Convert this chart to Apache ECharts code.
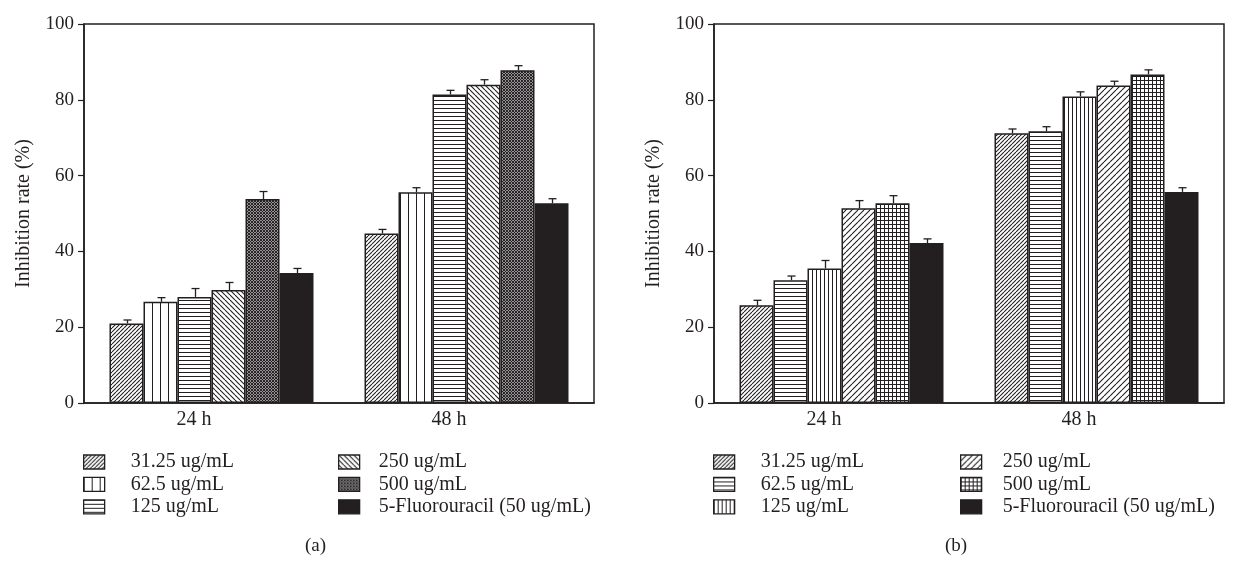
<!DOCTYPE html>
<html>
<head>
<meta charset="utf-8">
<script src="https://cdn.jsdelivr.net/npm/echarts@6/dist/echarts.min.js"></script>
<style>
html,body{margin:0;padding:0;background:#fff;}
#c{width:1246px;height:562px;}
</style>
</head>
<body>
<div id="c"></div>
<script>
// ---------- DATA ----------
const categories = ['24 h', '48 h'];
const concentrationsA = ['31.25 ug/mL', '62.5 ug/mL', '125 ug/mL', '250 ug/mL', '500 ug/mL', '5-Fluorouracil (50 ug/mL)'];
const concentrationsB = ['31.25 ug/mL', '62.5 ug/mL', '125 ug/mL', '250 ug/mL', '500 ug/mL', '5-Fluorouracil (50 ug/mL)'];
// values per series: [24 h, 48 h]
const panelAValues = [
  [21.0, 44.7],
  [26.7, 55.6],
  [28.0, 81.4],
  [29.8, 84.0],
  [53.8, 87.8],
  [34.3, 52.7]
];
const panelAErrors = [
  [0.9, 1.1],
  [1.1, 1.2],
  [2.2, 1.1],
  [2.0, 1.3],
  [2.0, 1.2],
  [1.2, 1.2]
];
const panelBValues = [
  [25.8, 71.2],
  [32.4, 71.7],
  [35.5, 80.9],
  [51.4, 83.8],
  [52.7, 86.7],
  [42.2, 55.7]
];
const panelBErrors = [
  [1.3, 1.1],
  [1.1, 1.2],
  [2.1, 1.2],
  [2.0, 1.1],
  [2.0, 1.2],
  [1.1, 1.1]
];
const yMin = 0, yMax = 100, yInterval = 20;
const panelLabels = ['(a)', '(b)'];
const yAxisTitle = 'Inhibition rate (%)';

// ---------- STYLE ----------
const INK = '#231f20';
const FONT = 'Liberation Serif';

function tile(w, h, draw) {
  const c = document.createElement('canvas');
  c.width = w; c.height = h;
  const ctx = c.getContext('2d');
  ctx.fillStyle = '#fff';
  ctx.fillRect(0, 0, w, h);
  ctx.strokeStyle = INK;
  ctx.fillStyle = INK;
  draw(ctx, w, h);
  return { image: c, repeat: 'repeat' };
}
function diagFwd(s, lw) { // "/"
  return tile(s, s, (ctx) => {
    ctx.lineWidth = lw;
    for (let k = -1; k <= 1; k++) {
      ctx.beginPath(); ctx.moveTo(k * s, s); ctx.lineTo(k * s + s, 0); ctx.stroke();
    }
  });
}
function diagBack(s, lw) { // "\"
  return tile(s, s, (ctx) => {
    ctx.lineWidth = lw;
    for (let k = -1; k <= 1; k++) {
      ctx.beginPath(); ctx.moveTo(k * s, 0); ctx.lineTo(k * s + s, s); ctx.stroke();
    }
  });
}
function cross(s, lw) {
  return tile(s, s, (ctx) => {
    ctx.lineWidth = lw;
    for (let k = -1; k <= 1; k++) {
      ctx.beginPath(); ctx.moveTo(k * s, s); ctx.lineTo(k * s + s, 0); ctx.stroke();
      ctx.beginPath(); ctx.moveTo(k * s, 0); ctx.lineTo(k * s + s, s); ctx.stroke();
    }
  });
}
function horiz(s, lw) {
  return tile(s, s, (ctx) => { ctx.fillRect(0, 0, s, lw); });
}
function vert(s, lw) {
  return tile(s, s, (ctx) => { ctx.fillRect(0, 0, lw, s); });
}
function grid(s, lw) {
  return tile(s, s, (ctx) => { ctx.fillRect(0, 0, s, lw); ctx.fillRect(0, 0, lw, s); });
}

const patternsA = [diagFwd(4, 1.1), vert(8, 1), horiz(4, 1), diagBack(5, 1.1), cross(3, 1.1), INK];
const patternsB = [diagFwd(4, 1.1), horiz(4, 1), vert(4, 1), diagFwd(6, 1.1), grid(4, 1), INK];

const grids = [
  { left: 84, top: 24, width: 510, height: 379 },
  { left: 714, top: 24, width: 510, height: 379 }
];

const chart = echarts.init(document.getElementById('c'), null, { renderer: 'canvas' });

function errRender(barIdx, nBars) {
  return function (params, api) {
    const cat = api.value(0), v = api.value(1), e = api.value(2);
    const base = api.coord([cat, v]);
    const top = api.coord([cat, v + e]);
    const band = api.size([1, 0])[0];
    const groupW = band * 0.8;
    const bw = groupW / nBars;
    const x = Math.round(base[0] - groupW / 2 + (barIdx + 0.5) * bw) + 0.5;
    const st = { stroke: INK, lineWidth: 1.3 };
    return {
      type: 'group',
      children: [
        { type: 'line', shape: { x1: x, y1: base[1], x2: x, y2: top[1] }, style: st },
        { type: 'line', shape: { x1: x - 4, y1: top[1], x2: x + 4, y2: top[1] }, style: st }
      ]
    };
  };
}

const series = [];
function addPanel(p, names, values, errors, patterns) {
  names.forEach((nm, i) => {
    series.push({
      type: 'bar',
      name: p + '|' + nm,
      xAxisIndex: p, yAxisIndex: p,
      data: values[i],
      barGap: '0%',
      barCategoryGap: '20%',
      itemStyle: { color: patterns[i], borderColor: INK, borderWidth: 1.5 },
      emphasis: { disabled: true },
      animation: false
    });
  });
  names.forEach((nm, i) => {
    series.push({
      type: 'custom',
      xAxisIndex: p, yAxisIndex: p,
      renderItem: errRender(i, names.length),
      data: values[i].map((v, c) => [c, v, errors[i][c]]),
      encode: { x: 0, y: 1 },
      z: 5,
      animation: false,
      silent: true
    });
  });
}
addPanel(0, concentrationsA, panelAValues, panelAErrors, patternsA);
addPanel(1, concentrationsB, panelBValues, panelBErrors, patternsB);

function xAxis(p) {
  return {
    type: 'category', gridIndex: p, data: categories,
    axisLine: { lineStyle: { color: INK, width: 1.5 } },
    axisTick: { show: false },
    axisLabel: { color: INK, fontFamily: FONT, fontSize: 20, margin: 7, padding: [0, 35, 0, 0] }
  };
}
function yAxis(p) {
  return {
    type: 'value', gridIndex: p, min: yMin, max: yMax, interval: yInterval,
    name: yAxisTitle, nameLocation: 'middle', nameGap: 50, nameRotate: 90,
    nameTextStyle: { color: INK, fontFamily: FONT, fontSize: 20 },
    axisLine: { show: true, lineStyle: { color: INK, width: 1.5 } },
    axisTick: { show: true, inside: false, length: 6, lineStyle: { color: INK, width: 1.2 } },
    axisLabel: { color: INK, fontFamily: FONT, fontSize: 19, margin: 10 },
    splitLine: { show: false }
  };
}

function legend(p, names, idxs, left, pad) {
  return {
    orient: 'vertical', left: left, top: 452, padding: 0,
    itemWidth: 21, itemHeight: 14, itemGap: 2.4, icon: 'rect',
    selectedMode: false,
    data: idxs.map(i => p + '|' + names[i]),
    formatter: (n) => n.replace(/^\d\|/, ''),
    itemStyle: { borderColor: INK, borderWidth: 1.3 },
    textStyle: { color: INK, fontFamily: FONT, fontSize: 20, lineHeight: 14, padding: [0, 0, 0, pad] }
  };
}

const option = {
  backgroundColor: '#fff',
  animation: false,
  grid: grids.map(g => Object.assign({ show: true, borderColor: INK, borderWidth: 1.5, backgroundColor: 'transparent' }, g)),
  xAxis: [xAxis(0), xAxis(1)],
  yAxis: [yAxis(0), yAxis(1)],
  legend: [
    legend(0, concentrationsA, [0, 1, 2], 83, 21),
    legend(0, concentrationsA, [3, 4, 5], 338, 14),
    legend(1, concentrationsB, [0, 1, 2], 713, 21),
    legend(1, concentrationsB, [3, 4, 5], 960, 16)
  ],
  graphic: [
    { type: 'text', left: 305, top: 537, style: { text: panelLabels[0], fill: INK, font: '19px "Liberation Serif"' } },
    { type: 'text', left: 945, top: 537, style: { text: panelLabels[1], fill: INK, font: '19px "Liberation Serif"' } }
  ],
  series: series
};
chart.setOption(option);
</script>
</body>
</html>
